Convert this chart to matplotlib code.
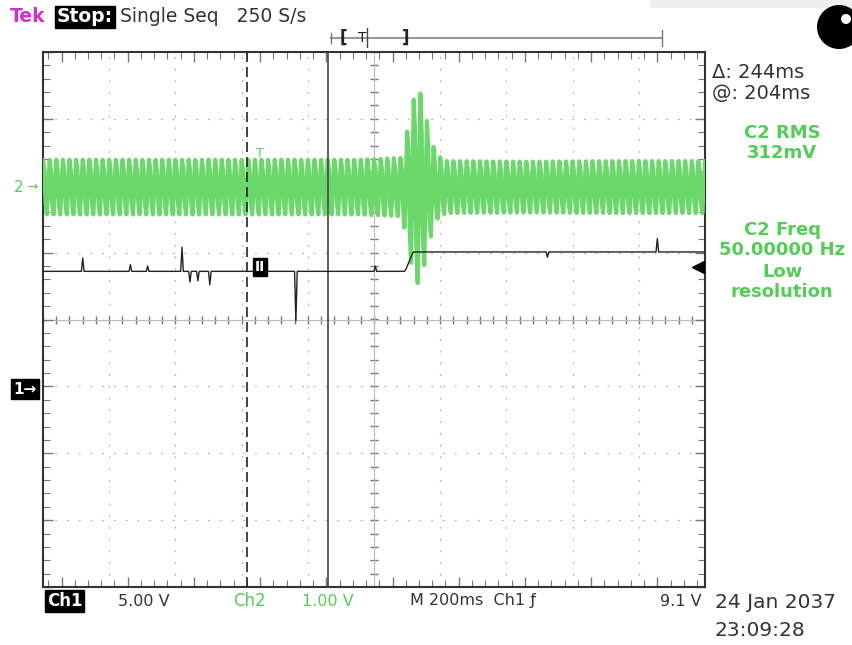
import matplotlib
matplotlib.use("Agg")
import matplotlib.pyplot as plt
import numpy as np
from matplotlib.patches import Circle, Rectangle
from matplotlib.ticker import MultipleLocator

# ---------------------------------------------------------------
# readings from the screen
# ---------------------------------------------------------------
SAMPLE_RATE = 250          # S/s
TIME_PER_DIV = 200         # ms
CH1_VOLTS_PER_DIV = 5.0
CH2_VOLTS_PER_DIV = 1.0
CH1_OFFSET_DIV = -1.04     # "1->" ground marker
CH2_OFFSET_DIV = 1.98      # "2->" ground marker
TRIG_LEVEL = 9.1           # V
T_LEFT = -656              # ms, left edge relative to trigger
CURSOR_A = -40             # ms
CURSOR_B = 204             # ms
CH2_FREQ = 50.0            # Hz

# Ch2 envelope (peak volts)
env_t = [-656, 300, 430, 450, 465, 480, 495, 512, 530, 560, 800, 1100, 1344]
env_v = [0.43, 0.43, 0.46, 1.05, 1.40, 1.55, 1.25, 0.85, 0.52, 0.41, 0.40, 0.41, 0.41]

# Ch1 levels (volts) and spikes
ch1_before = 8.8
ch1_after = 10.25
step_t = [438, 462]
spike_t = [-535, -393, -341, -236, -211, -187, -151, 109, 347, 870, 1202]
spike_v = [1.0, 0.5, 0.4, 1.8, -0.8, -0.7, -1.0, -3.7, 0.4, -0.4, 1.0]

# ---------------------------------------------------------------
t = T_LEFT + np.arange(int(SAMPLE_RATE * 10 * TIME_PER_DIV / 1000) + 1) * 1000.0 / SAMPLE_RATE

amp = np.interp(t, env_t, env_v)
ch2 = amp * np.sin(2 * np.pi * CH2_FREQ * t / 1000.0)

ch1 = np.interp(t, step_t, [ch1_before, ch1_after])
for st, sv in zip(spike_t, spike_v):
    ch1[np.argmin(np.abs(t - st))] += sv

W, H = 852, 645
fig = plt.figure(figsize=(W / 100, H / 100), dpi=100)
fig.patch.set_facecolor("white")


def fx(x):
    return x / W


def fy(y):
    return 1 - y / H


ax = fig.add_axes([fx(43), fy(587), (705 - 43) / W, (587 - 52) / H])
x0, x1 = T_LEFT, T_LEFT + 10 * TIME_PER_DIV
ax.set_xlim(x0, x1)
ax.set_ylim(-4, 4)

# graticule
grid_kw = dict(color="#b4b4b4", lw=0.9, dashes=(1.5, 7.9), zorder=1)
for k in range(1, 10):
    ax.axvline(x0 + k * TIME_PER_DIV, **grid_kw)
for k in range(-3, 4):
    ax.axhline(k, **grid_kw)

# center crosshair ticks
xc = x0 + 5 * TIME_PER_DIV
minor_x = np.arange(x0, x1 + 1, TIME_PER_DIV / 5)
minor_y = np.arange(-4, 4.01, 0.2)
ax.plot(minor_x, np.zeros_like(minor_x), ls="none", marker="|", ms=6, mew=1, color="#777", zorder=1)
ax.plot(np.full_like(minor_y, xc), minor_y, ls="none", marker="_", ms=6, mew=1, color="#777", zorder=1)
ax.axhline(0, color="#bbb", lw=0.8, zorder=1)
ax.axvline(xc, color="#bbb", lw=0.8, zorder=1)

ax.xaxis.set_major_locator(MultipleLocator(TIME_PER_DIV))
ax.xaxis.set_minor_locator(MultipleLocator(TIME_PER_DIV / 5))
ax.yaxis.set_major_locator(MultipleLocator(1))
ax.yaxis.set_minor_locator(MultipleLocator(0.2))
ax.tick_params(which="both", direction="in", top=True, right=True,
               labelbottom=False, labelleft=False, color="#777")
ax.tick_params(which="major", length=7, width=1)
ax.tick_params(which="minor", length=5, width=0.8)
for s in ax.spines.values():
    s.set_color("#333")
    s.set_linewidth(1.5)

# cursors
ax.axvline(CURSOR_A, color="#222", lw=1.2, dashes=(6, 3), zorder=4)
ax.axvline(CURSOR_B, color="#444", lw=1.2, zorder=4)

# traces
ax.plot(t, ch2 / CH2_VOLTS_PER_DIV + CH2_OFFSET_DIV, color="#6cd86c", lw=3.0, zorder=3)
ax.plot(t, ch1 / CH1_VOLTS_PER_DIV + CH1_OFFSET_DIV, color="#222", lw=1.0, zorder=5)

# trigger level arrow, trigger point, cursor glyph
ax.plot([x1 - 20], [TRIG_LEVEL / CH1_VOLTS_PER_DIV + CH1_OFFSET_DIV], marker="<",
        ms=8, color="black", clip_on=False, zorder=6)
ax.text(0, 2.48, "T", color="#5ccc5c", fontsize=9, ha="center", va="center", zorder=6)
ax.text(0, 0.78, "II", color="white", fontsize=10, fontweight="bold", ha="center", va="center",
        zorder=6, bbox=dict(boxstyle="square,pad=0.15", fc="black", ec="black"))

# ground markers
fig.text(fx(14), fy(187), "2", color="#55cc55", fontsize=11, ha="left", va="center")
fig.text(fx(27), fy(187), "→", color="#55cc55", fontsize=9, ha="left", va="center")
fig.text(fx(13), fy(389), "1→", color="white", fontsize=11, fontweight="bold", ha="left", va="center",
         bbox=dict(boxstyle="square,pad=0.15", fc="black", ec="black"))

# header
fig.text(fx(10), fy(17), "Tek", color="#cc33cc", fontsize=13.5, fontweight="bold", ha="left", va="center")
fig.text(fx(57), fy(17), "Stop:", color="white", fontsize=13.5, fontweight="bold", ha="left", va="center",
         bbox=dict(boxstyle="square,pad=0.1", fc="black", ec="black"))
fig.text(fx(120), fy(17), "Single Seq   250 S/s", color="#333", fontsize=13.5, ha="left", va="center")

# record view bar
bar = fig.add_axes([fx(328), fy(48), (664 - 328) / W, 20 / H])
bar.set_xlim(328, 664)
bar.set_ylim(0, 1)
bar.axis("off")
bar.plot([331, 662], [0.5, 0.5], color="#999", lw=1.5)
bar.plot([331, 331], [0.25, 0.75], color="#777", lw=1)
bar.plot([662, 662], [0.1, 0.9], color="#777", lw=1)
bar.text(343, 0.5, "[", fontsize=12, fontweight="bold", ha="center", va="center", color="#222")
bar.text(362, 0.5, "T", fontsize=10, ha="center", va="center", color="#222")
bar.plot([367, 367], [0.0, 1.0], color="#444", lw=1)
bar.text(406, 0.5, "]", fontsize=12, fontweight="bold", ha="center", va="center", color="#222")

# right side readouts
fig.text(fx(712), fy(73), "Δ: 244ms", color="#333", fontsize=14, ha="left", va="center")
fig.text(fx(712), fy(93), "@: 204ms", color="#333", fontsize=14, ha="left", va="center")
green = "#55cc55"
for yy, s in [(133, "C2 RMS"), (153, "312mV"), (230, "C2 Freq"), (250, "50.00000 Hz"),
              (272, "Low"), (292, "resolution")]:
    fig.text(fx(782), fy(yy), s, color=green, fontsize=13, fontweight="bold", ha="center", va="center")

# footer
fig.text(fx(47), fy(601), "Ch1", color="white", fontsize=12, fontweight="bold", ha="left", va="center",
         bbox=dict(boxstyle="square,pad=0.1", fc="black", ec="black"))
fig.text(fx(118), fy(601), "5.00 V", color="#333", fontsize=11.5, ha="left", va="center")
fig.text(fx(233), fy(601), "Ch2", color=green, fontsize=12, ha="left", va="center")
fig.text(fx(302), fy(601), "1.00 V", color=green, fontsize=11.5, ha="left", va="center")
fig.text(fx(410), fy(601), "M 200ms  Ch1 ƒ", color="#333", fontsize=11.5, ha="left", va="center")
fig.text(fx(702), fy(601), "9.1 V", color="#333", fontsize=11.5, ha="right", va="center")
fig.text(fx(715), fy(603), "24 Jan 2037", color="#333", fontsize=14.5, ha="left", va="center")
fig.text(fx(715), fy(630), "23:09:28", color="#333", fontsize=14.5, ha="left", va="center")

# top-right decoration
fig.patches.append(Rectangle((6.5, 6.37), 2.1, 0.1, transform=fig.dpi_scale_trans,
                             fc="#f0f0f0", ec="none"))
fig.patches.append(Circle((8.39, 6.18), 0.22, transform=fig.dpi_scale_trans, fc="black", ec="none"))
fig.patches.append(Circle((8.46, 6.26), 0.05, transform=fig.dpi_scale_trans, fc="white", ec="none"))

fig.savefig("out.png", dpi=100)
